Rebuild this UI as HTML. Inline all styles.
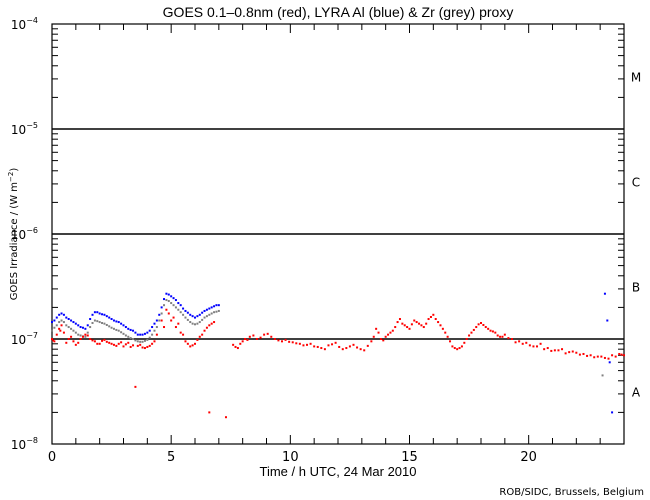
<!DOCTYPE html>
<html><head><meta charset="utf-8"><style>
html,body{margin:0;padding:0;background:#fff;}
svg{display:block;font-family:"DejaVu Sans","Liberation Sans",sans-serif;}
</style></head><body>
<svg id="chart" width="650" height="500" viewBox="0 0 650 500">
<text x="338" y="17" text-anchor="middle" font-size="14" font-family="Liberation Sans, sans-serif">GOES 0.1–0.8nm (red), LYRA Al (blue) &amp; Zr (grey) proxy</text>
<g id="axes"></g>
<g id="marks"></g>
<text x="338" y="476" text-anchor="middle" font-size="13" font-family="Liberation Sans, sans-serif">Time / h UTC, 24 Mar 2010</text>
<text transform="translate(17,234) rotate(-90)" text-anchor="middle" font-size="10">GOES Irradiance / (W m<tspan baseline-shift="super" font-size="7">−2</tspan>)</text>
<text x="644" y="495" text-anchor="end" font-size="10">ROB/SIDC, Brussels, Belgium</text>
</svg>
<script>
const xTicks=[0,5,10,15,20];
const yDecades=[-8,-7,-6,-5,-4];
const classLabels=["A","B","C","M"];
const redT=[0.0,0.1,0.2,0.3,0.4,0.5,0.6,0.8,1.0,1.2,1.4,1.6,1.8,2.0,2.2,2.4,2.6,2.8,3.0,3.2,3.4,3.6,3.8,4.0,4.2,4.4,4.6,4.8,4.9,5.0,5.2,5.4,5.6,5.8,6.0,6.2,6.4,6.6,6.8,7.6,7.8,8.0,8.3,8.6,8.9,9.2,9.5,9.8,10.1,10.4,10.7,11.0,11.3,11.6,11.9,12.2,12.5,12.8,13.1,13.4,13.6,13.8,14.0,14.2,14.4,14.6,14.8,15.0,15.2,15.4,15.6,15.8,16.0,16.2,16.4,16.6,16.8,17.0,17.2,17.4,17.6,17.8,18.0,18.2,18.4,18.6,18.8,19.0,19.3,19.6,19.9,20.2,20.5,20.8,21.1,21.4,21.7,22.0,22.3,22.6,22.9,23.2,23.5,23.8,24.0,3.5,6.6,7.3];
const redV=[1.0e-7,0.95e-7,1.1e-7,1.25e-7,1.35e-7,1.15e-7,0.92e-7,1.05e-7,0.88e-7,1.0e-7,1.1e-7,1.0e-7,0.95e-7,0.9e-7,0.98e-7,0.92e-7,0.88e-7,0.9e-7,0.85e-7,0.92e-7,0.87e-7,0.86e-7,0.83e-7,0.84e-7,0.9e-7,1.1e-7,1.5e-7,1.9e-7,1.75e-7,1.5e-7,1.3e-7,1.15e-7,0.95e-7,0.85e-7,0.9e-7,1.05e-7,1.2e-7,1.35e-7,1.45e-7,0.88e-7,0.82e-7,0.95e-7,1.05e-7,1.0e-7,1.1e-7,1.05e-7,0.97e-7,0.98e-7,0.93e-7,0.9e-7,0.88e-7,0.85e-7,0.82e-7,0.87e-7,0.92e-7,0.8e-7,0.85e-7,0.83e-7,0.78e-7,0.95e-7,1.25e-7,1.0e-7,1.05e-7,1.15e-7,1.3e-7,1.55e-7,1.35e-7,1.25e-7,1.5e-7,1.4e-7,1.3e-7,1.55e-7,1.7e-7,1.45e-7,1.25e-7,1.05e-7,0.85e-7,0.8e-7,0.85e-7,1.0e-7,1.15e-7,1.3e-7,1.42e-7,1.3e-7,1.2e-7,1.15e-7,1.05e-7,1.1e-7,1.0e-7,0.95e-7,0.92e-7,0.85e-7,0.9e-7,0.82e-7,0.78e-7,0.8e-7,0.75e-7,0.74e-7,0.72e-7,0.7e-7,0.68e-7,0.66e-7,0.7e-7,0.72e-7,0.7e-7,0.35e-7,0.2e-7,0.18e-7];
const redT2=[0.05,0.35,0.7,0.9,1.1,1.3,1.5,1.7,1.9,2.1,2.3,2.5,2.7,2.9,3.1,3.3,3.7,3.9,4.1,4.3,4.7,5.1,5.3,5.5,5.7,5.9,6.1,6.3,6.5,6.7,7.7,7.9,8.1,8.2,8.45,8.75,9.05,9.35,9.65,9.95,10.25,10.55,10.85,11.15,11.45,11.75,12.05,12.35,12.65,12.95,13.25,13.5,13.7,13.9,14.1,14.3,14.5,14.7,14.9,15.1,15.3,15.5,15.7,15.9,16.1,16.3,16.5,16.7,16.9,17.1,17.3,17.5,17.7,17.9,18.1,18.3,18.5,18.7,18.9,19.15,19.45,19.75,20.05,20.35,20.65,20.95,21.25,21.55,21.85,22.15,22.45,22.75,23.05,23.35,23.65,23.9];
const redV2=[0.97e-7,1.2e-7,1.0e-7,0.95e-7,0.92e-7,1.05e-7,1.08e-7,0.97e-7,0.9e-7,0.96e-7,0.94e-7,0.9e-7,0.86e-7,0.93e-7,0.89e-7,0.84e-7,0.88e-7,0.82e-7,0.86e-7,0.95e-7,1.3e-7,1.6e-7,1.4e-7,1.1e-7,0.9e-7,0.87e-7,0.98e-7,1.1e-7,1.28e-7,1.4e-7,0.84e-7,0.9e-7,1.0e-7,0.98e-7,1.08e-7,1.03e-7,1.12e-7,1.0e-7,0.95e-7,0.94e-7,0.91e-7,0.87e-7,0.9e-7,0.84e-7,0.8e-7,0.89e-7,0.84e-7,0.82e-7,0.88e-7,0.8e-7,0.86e-7,1.05e-7,1.15e-7,0.97e-7,1.1e-7,1.2e-7,1.45e-7,1.4e-7,1.3e-7,1.38e-7,1.45e-7,1.35e-7,1.4e-7,1.62e-7,1.55e-7,1.35e-7,1.15e-7,0.95e-7,0.82e-7,0.82e-7,0.92e-7,1.08e-7,1.22e-7,1.38e-7,1.36e-7,1.25e-7,1.18e-7,1.08e-7,1.05e-7,1.02e-7,0.93e-7,0.9e-7,0.87e-7,0.85e-7,0.8e-7,0.77e-7,0.78e-7,0.73e-7,0.76e-7,0.71e-7,0.69e-7,0.67e-7,0.68e-7,0.65e-7,0.68e-7,0.71e-7];
const blueT=[0.0,0.2,0.4,0.6,0.8,1.0,1.2,1.4,1.6,1.8,2.0,2.2,2.4,2.6,2.8,3.0,3.2,3.4,3.6,3.8,4.0,4.2,4.4,4.6,4.8,5.0,5.2,5.4,5.6,5.8,6.0,6.2,6.4,6.6,6.8,7.0,23.2,23.3,23.4,23.5,0.1,0.3,0.5,0.7,0.9,1.1,1.3,1.5,1.7,1.9,2.1,2.3,2.5,2.7,2.9,3.1,3.3,3.5,3.7,3.9,4.1,4.3,4.5,4.7,4.9,5.1,5.3,5.5,5.7,5.9,6.1,6.3,6.5,6.7,6.9];
const blueV=[1.45e-7,1.6e-7,1.75e-7,1.6e-7,1.5e-7,1.4e-7,1.3e-7,1.25e-7,1.55e-7,1.8e-7,1.75e-7,1.7e-7,1.6e-7,1.5e-7,1.45e-7,1.35e-7,1.25e-7,1.2e-7,1.1e-7,1.1e-7,1.15e-7,1.3e-7,1.5e-7,2.0e-7,2.7e-7,2.55e-7,2.35e-7,2.1e-7,1.85e-7,1.7e-7,1.6e-7,1.7e-7,1.85e-7,1.95e-7,2.05e-7,2.1e-7,2.7e-7,1.5e-7,0.6e-7,0.2e-7,1.5e-7,1.7e-7,1.7e-7,1.55e-7,1.45e-7,1.35e-7,1.28e-7,1.35e-7,1.7e-7,1.8e-7,1.72e-7,1.65e-7,1.55e-7,1.47e-7,1.4e-7,1.3e-7,1.22e-7,1.15e-7,1.1e-7,1.12e-7,1.2e-7,1.4e-7,1.7e-7,2.4e-7,2.65e-7,2.45e-7,2.2e-7,1.95e-7,1.78e-7,1.65e-7,1.65e-7,1.78e-7,1.9e-7,2.0e-7,2.1e-7];
const greyT=[0.0,0.2,0.4,0.6,0.8,1.0,1.2,1.4,1.6,1.8,2.0,2.2,2.4,2.6,2.8,3.0,3.2,3.4,3.6,3.8,4.0,4.2,4.4,4.6,4.8,5.0,5.2,5.4,5.6,5.8,6.0,6.2,6.4,6.6,6.8,7.0,23.1,0.1,0.3,0.5,0.7,0.9,1.1,1.3,1.5,1.7,1.9,2.1,2.3,2.5,2.7,2.9,3.1,3.3,3.5,3.7,3.9,4.1,4.3,4.5,4.7,4.9,5.1,5.3,5.5,5.7,5.9,6.1,6.3,6.5,6.7,6.9];
const greyV=[1.2e-7,1.35e-7,1.5e-7,1.35e-7,1.25e-7,1.15e-7,1.08e-7,1.05e-7,1.3e-7,1.5e-7,1.45e-7,1.4e-7,1.32e-7,1.25e-7,1.2e-7,1.12e-7,1.05e-7,1.0e-7,0.95e-7,0.94e-7,0.98e-7,1.1e-7,1.3e-7,1.75e-7,2.35e-7,2.2e-7,2.0e-7,1.8e-7,1.6e-7,1.45e-7,1.38e-7,1.45e-7,1.6e-7,1.7e-7,1.8e-7,1.85e-7,0.45e-7,1.28e-7,1.45e-7,1.45e-7,1.3e-7,1.2e-7,1.1e-7,1.06e-7,1.15e-7,1.42e-7,1.48e-7,1.42e-7,1.36e-7,1.28e-7,1.22e-7,1.16e-7,1.08e-7,1.02e-7,0.97e-7,0.94e-7,0.96e-7,1.03e-7,1.2e-7,1.5e-7,2.1e-7,2.3e-7,2.1e-7,1.9e-7,1.7e-7,1.52e-7,1.4e-7,1.4e-7,1.52e-7,1.65e-7,1.75e-7,1.82e-7];

const L=52,R=624,T=24,B=444;
const xs=h=>L+(R-L)*h/24;
const ys=v=>B-(Math.log10(v)+8)*105;
const NS="http://www.w3.org/2000/svg";
const axes=document.getElementById('axes'), marks=document.getElementById('marks');
function mk(tag,attrs,parent){const e=document.createElementNS(NS,tag);for(const k in attrs)e.setAttribute(k,attrs[k]);parent.appendChild(e);return e;}

const frame=mk('rect',{x:L,y:T,width:R-L,height:B-T,fill:'none',stroke:'#000','stroke-width':1.2},axes);


for(let h=0;h<=24;h++){
  const len=(h%5===0)?9:6;
  const t1=mk('line',{x1:xs(h),x2:xs(h),y1:B,y2:B-len,stroke:'#000','stroke-width':1},axes);
  
  
  const t2=mk('line',{x1:xs(h),x2:xs(h),y1:T,y2:T+len,stroke:'#000','stroke-width':1},axes);
  
  
}
xTicks.forEach(h=>{
  const t=mk('text',{x:xs(h),y:461,'text-anchor':'middle','font-size':13},axes);
  t.textContent=h;
  
  
});
yDecades.forEach((d,i)=>{
  const y=ys(Math.pow(10,d));
  const lab=mk('text',{x:38,y:y+5,'text-anchor':'end','font-size':12},axes);
  lab.textContent='10';
  const sup=mk('tspan',{dy:-6,'font-size':8},lab);sup.textContent=String(d).replace('-','−');
  
  
  if(d>-8&&d<-4){
    const g=mk('line',{x1:L,x2:R,y1:y,y2:y,stroke:'#000','stroke-width':1.5},axes);
    
    
  }
  if(i<yDecades.length-1){
    for(let m=2;m<=9;m++){
      const yy=ys(m*Math.pow(10,d));
      const a=mk('line',{x1:L,x2:L+6,y1:yy,y2:yy,stroke:'#000','stroke-width':1},axes);
      
      
      const b=mk('line',{x1:R,x2:R-6,y1:yy,y2:yy,stroke:'#000','stroke-width':1},axes);
      
      
    }
    const cl=mk('text',{x:636,y:ys(Math.pow(10,d+0.5))+5,'text-anchor':'middle','font-size':12},axes);
    cl.textContent=classLabels[i];
    
    
  }
});
function dots(T_,V_,color,name){
  T_.forEach((t,i)=>{
    const r=mk('rect',{x:xs(t)-1,y:ys(V_[i])-1,width:2,height:2,fill:color},marks);
    
    
  });
}
dots(greyT,greyV,'#808080','zr-proxy-point');
dots(blueT,blueV,'#0000ff','al-proxy-point');
dots(redT,redV,'#ff0000','goes-point');
dots(redT2,redV2,'#ff0000','goes-point');
</script>
</body></html>
